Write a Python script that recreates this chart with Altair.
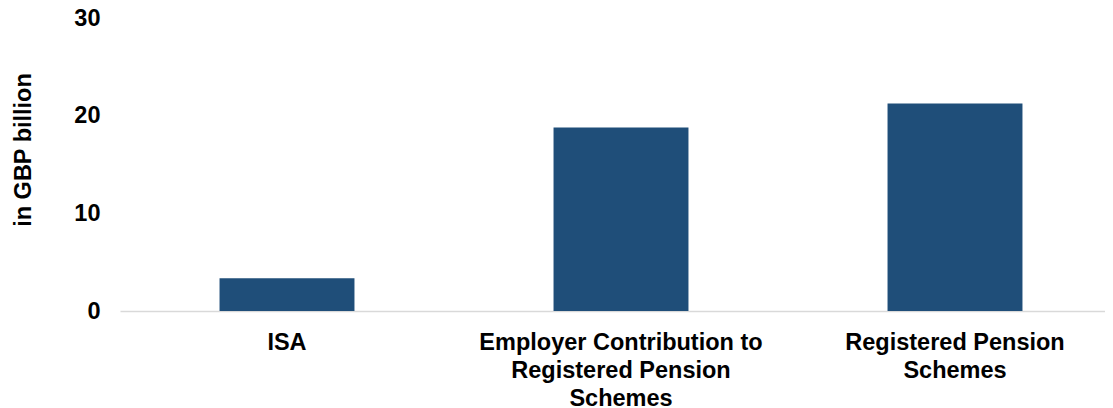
import altair as alt
import pandas as pd

categories = ["ISA", "Employer Contribution to|Registered Pension|Schemes", "Registered Pension|Schemes"]
values = [3.35, 18.8, 21.25]
y_ticks = [0, 10, 20, 30]

df = pd.DataFrame({"category": categories, "value": values})

FONT = "Liberation Sans"
FS = 23.5

chart = alt.Chart(df).mark_bar(color="#1F4E79").encode(
    x=alt.X(
        "category:N",
        sort=categories,
        title=None,
        scale=alt.Scale(range=[0, 1002], paddingInner=0.596, paddingOuter=0.298),
        axis=alt.Axis(
            labelAngle=0,
            labelExpr="split(datum.label, '|')",
            labelFont=FONT,
            labelFontSize=FS,
            labelFontWeight="bold",
            labelColor="#000000",
            labelLineHeight=28,
            labelPadding=19,
            labelBaseline="top",
            labelLimit=0,
            ticks=False,
            tickSize=0,
            domainColor="#D9D9D9",
            domainWidth=1.5,
            grid=False,
        ),
    ),
    y=alt.Y(
        "value:Q",
        scale=alt.Scale(domain=[0, 30], nice=False),
        axis=alt.Axis(
            values=y_ticks,
            title="in GBP billion",
            titleFont=FONT,
            titleFontSize=FS,
            titleFontWeight="bold",
            titleColor="#000000",
            titleAngle=-90,
            titleAlign="center",
            titleBaseline="alphabetic",
            titleX=-90,
            titleY=131.5,
            labelFont=FONT,
            labelFontSize=FS,
            labelFontWeight="bold",
            labelColor="#000000",
            labelPadding=20,
            ticks=False,
            tickSize=0,
            domain=False,
            grid=False,
        ),
    ),
).properties(
    width=985,
    height=293,
    autosize=alt.AutoSizeParams(type="none"),
    padding={"left": 112, "top": 10, "right": 0, "bottom": 97},
).configure(font=FONT).configure_view(strokeWidth=0, stroke="transparent")

chart.save("out.html", embed_options={"renderer": "svg", "actions": False})
